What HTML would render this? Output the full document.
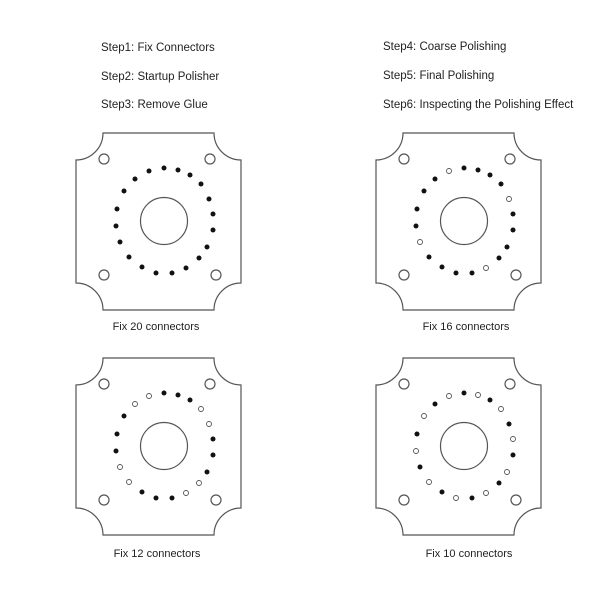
<!DOCTYPE html>
<html><head><meta charset="utf-8"><style>
html,body{margin:0;padding:0;background:#fff;}
svg{display:block}
text{font-family:"Liberation Sans",sans-serif;font-size:11.5px;fill:#222}
text.l{font-size:11px}
.p{fill:none;stroke:#555;stroke-width:1.2}
.f{fill:#111}
.o{fill:#fff;stroke:#555;stroke-width:0.9}
</style></head><body>
<svg width="600" height="600" viewBox="0 0 600 600" xmlns="http://www.w3.org/2000/svg">
<text x="101" y="51">Step1: Fix Connectors</text>
<text x="101" y="80">Step2: Startup Polisher</text>
<text x="101" y="108">Step3: Remove Glue</text>
<text x="383" y="50">Step4: Coarse Polishing</text>
<text x="383" y="79">Step5: Final Polishing</text>
<text x="383" y="108">Step6: Inspecting the Polishing Effect</text>
<text class="l" x="156" y="330" text-anchor="middle">Fix 20 connectors</text>
<text class="l" x="466" y="330" text-anchor="middle">Fix 16 connectors</text>
<text class="l" x="157" y="557" text-anchor="middle">Fix 12 connectors</text>
<text class="l" x="469" y="557" text-anchor="middle">Fix 10 connectors</text>
<defs>
<g id="plate">
<path class="p" d="M103,133 L214,133 A27,27 0 0 0 241,160 L241,283 A27,27 0 0 0 214,310 L103,310 A27,27 0 0 0 76,283 L76,160 A27,27 0 0 0 103,133 Z"/>
<circle class="p" cx="164" cy="221" r="23.5"/>
<circle class="p" cx="104" cy="159" r="5"/>
<circle class="p" cx="210" cy="159" r="5"/>
<circle class="p" cx="104" cy="275" r="5"/>
<circle class="p" cx="216" cy="275" r="5"/>
</g>
</defs>
<g>
<use href="#plate"/>
<circle class="f" cx="149" cy="171" r="2.5"/><circle class="f" cx="164" cy="168" r="2.5"/><circle class="f" cx="178" cy="170" r="2.5"/><circle class="f" cx="190" cy="175" r="2.5"/><circle class="f" cx="201" cy="184" r="2.5"/>
<circle class="f" cx="209" cy="199" r="2.5"/><circle class="f" cx="213" cy="214" r="2.5"/><circle class="f" cx="213" cy="230" r="2.5"/><circle class="f" cx="207" cy="247" r="2.5"/><circle class="f" cx="199" cy="258" r="2.5"/>
<circle class="f" cx="186" cy="268" r="2.5"/><circle class="f" cx="172" cy="273" r="2.5"/><circle class="f" cx="156" cy="273" r="2.5"/><circle class="f" cx="142" cy="267" r="2.5"/><circle class="f" cx="129" cy="257" r="2.5"/>
<circle class="f" cx="120" cy="242" r="2.5"/><circle class="f" cx="116" cy="226" r="2.5"/><circle class="f" cx="117" cy="209" r="2.5"/><circle class="f" cx="124" cy="191" r="2.5"/><circle class="f" cx="135" cy="179" r="2.5"/>
</g>
<g transform="translate(300,0)">
<use href="#plate"/>
<circle class="o" cx="149" cy="171" r="2.5"/><circle class="f" cx="164" cy="168" r="2.5"/><circle class="f" cx="178" cy="170" r="2.5"/><circle class="f" cx="190" cy="175" r="2.5"/><circle class="f" cx="201" cy="184" r="2.5"/>
<circle class="o" cx="209" cy="199" r="2.5"/><circle class="f" cx="213" cy="214" r="2.5"/><circle class="f" cx="213" cy="230" r="2.5"/><circle class="f" cx="207" cy="247" r="2.5"/><circle class="f" cx="199" cy="258" r="2.5"/>
<circle class="o" cx="186" cy="268" r="2.5"/><circle class="f" cx="172" cy="273" r="2.5"/><circle class="f" cx="156" cy="273" r="2.5"/><circle class="f" cx="142" cy="267" r="2.5"/><circle class="f" cx="129" cy="257" r="2.5"/>
<circle class="o" cx="120" cy="242" r="2.5"/><circle class="f" cx="116" cy="226" r="2.5"/><circle class="f" cx="117" cy="209" r="2.5"/><circle class="f" cx="124" cy="191" r="2.5"/><circle class="f" cx="135" cy="179" r="2.5"/>
</g>
<g transform="translate(0,225)">
<use href="#plate"/>
<circle class="o" cx="149" cy="171" r="2.5"/><circle class="f" cx="164" cy="168" r="2.5"/><circle class="f" cx="178" cy="170" r="2.5"/><circle class="f" cx="190" cy="175" r="2.5"/><circle class="o" cx="201" cy="184" r="2.5"/>
<circle class="o" cx="209" cy="199" r="2.5"/><circle class="f" cx="213" cy="214" r="2.5"/><circle class="f" cx="213" cy="230" r="2.5"/><circle class="f" cx="207" cy="247" r="2.5"/><circle class="o" cx="199" cy="258" r="2.5"/>
<circle class="o" cx="186" cy="268" r="2.5"/><circle class="f" cx="172" cy="273" r="2.5"/><circle class="f" cx="156" cy="273" r="2.5"/><circle class="f" cx="142" cy="267" r="2.5"/><circle class="o" cx="129" cy="257" r="2.5"/>
<circle class="o" cx="120" cy="242" r="2.5"/><circle class="f" cx="116" cy="226" r="2.5"/><circle class="f" cx="117" cy="209" r="2.5"/><circle class="f" cx="124" cy="191" r="2.5"/><circle class="o" cx="135" cy="179" r="2.5"/>
</g>
<g transform="translate(300,225)">
<use href="#plate"/>
<circle class="o" cx="149" cy="171" r="2.5"/><circle class="f" cx="164" cy="168" r="2.5"/><circle class="o" cx="178" cy="170" r="2.5"/><circle class="f" cx="190" cy="175" r="2.5"/><circle class="o" cx="201" cy="184" r="2.5"/>
<circle class="f" cx="209" cy="199" r="2.5"/><circle class="o" cx="213" cy="214" r="2.5"/><circle class="f" cx="213" cy="230" r="2.5"/><circle class="o" cx="207" cy="247" r="2.5"/><circle class="f" cx="199" cy="258" r="2.5"/>
<circle class="o" cx="186" cy="268" r="2.5"/><circle class="f" cx="172" cy="273" r="2.5"/><circle class="o" cx="156" cy="273" r="2.5"/><circle class="f" cx="142" cy="267" r="2.5"/><circle class="o" cx="129" cy="257" r="2.5"/>
<circle class="f" cx="120" cy="242" r="2.5"/><circle class="o" cx="116" cy="226" r="2.5"/><circle class="f" cx="117" cy="209" r="2.5"/><circle class="o" cx="124" cy="191" r="2.5"/><circle class="f" cx="135" cy="179" r="2.5"/>
</g>
</svg>
</body></html>
